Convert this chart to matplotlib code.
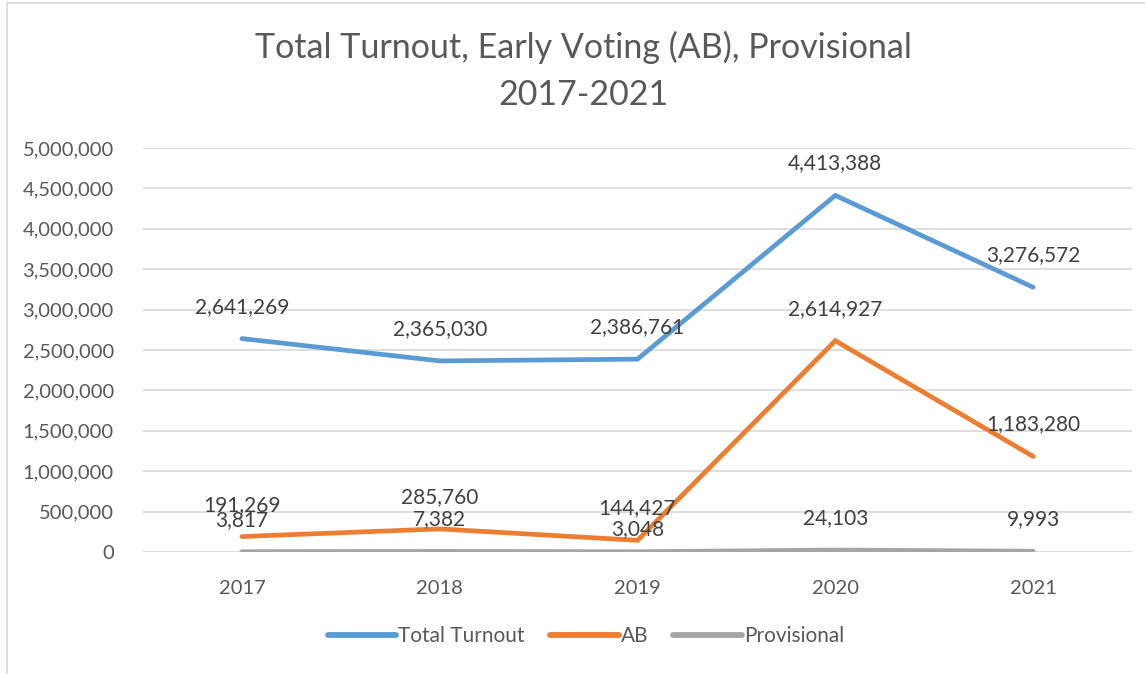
import matplotlib
matplotlib.use("Agg")
import matplotlib.pyplot as plt
from matplotlib.patches import Rectangle

plt.rcParams['font.family'] = ['Lato', 'DejaVu Sans']

# data
years = ['2017', '2018', '2019', '2020', '2021']
total_turnout = [2641269, 2365030, 2386761, 4413388, 3276572]
ab = [191269, 285760, 144427, 2614927, 1183280]
provisional = [3817, 7382, 3048, 24103, 9993]

series = [
    ('Total Turnout', total_turnout, '#5B9BD5'),
    ('AB', ab, '#ED7D31'),
    ('Provisional', provisional, '#A5A5A5'),
]

fig = plt.figure(figsize=(11.45, 6.74), dpi=100)
ax = fig.add_axes([143 / 1145, 1 - 552 / 674, (1132 - 143) / 1145, (552 - 148) / 674])

x = list(range(len(years)))
for name, vals, color in series:
    ax.plot(x, vals, color=color, lw=3.4, solid_capstyle='round',
            solid_joinstyle='miter', label=name, zorder=3)
    for xi, v in zip(x, vals):
        dy = 23
        if name == 'Provisional' and xi == 2:
            dy = 16  # excel nudged this one down a bit
        ax.annotate(f'{v:,}', (xi, v), xytext=(0, dy), textcoords='offset points',
                    ha='center', va='center', fontsize=15, color='#404040', zorder=4)

ax.set_xlim(-0.5, len(years) - 0.5)
ax.set_ylim(0, 5000000)
ax.set_yticks(range(0, 5000001, 500000))
ax.set_yticklabels([f'{t:,}' for t in range(0, 5000001, 500000)])
ax.set_xticks(x)
ax.set_xticklabels(years)
ax.tick_params(axis='both', length=0, labelsize=14.5, labelcolor='#595959')
ax.tick_params(axis='y', pad=21)
ax.tick_params(axis='x', pad=20)
ax.grid(axis='y', color='#D9D9D9', lw=1.2)
ax.set_axisbelow(True)
for s in ax.spines.values():
    s.set_visible(False)

fig.text(583 / 1145, 1 - 47 / 674, 'Total Turnout, Early Voting (AB), Provisional',
         ha='center', va='center', fontsize=24.5, color='#595959')
fig.text(583 / 1145, 1 - 95 / 674, '2017-2021',
         ha='center', va='center', fontsize=24.5, color='#595959')

leg = ax.legend(loc='center', bbox_to_anchor=(586 / 1145, 1 - 636 / 674),
                bbox_transform=fig.transFigure, ncol=3, frameon=False,
                fontsize=15, handlelength=3.3, handletextpad=0.1, columnspacing=1.2)
for t in leg.get_texts():
    t.set_color('#595959')
for h in leg.get_lines():
    h.set_linewidth(4.2)

# chart border
fig.patches.append(Rectangle((7 / 1145, -0.1), 1.2, 1 - 3 / 674 + 0.1,
                             transform=fig.transFigure, fill=False,
                             edgecolor='#D9D9D9', lw=1.2))

fig.savefig('out.png', dpi=100, facecolor='white')
